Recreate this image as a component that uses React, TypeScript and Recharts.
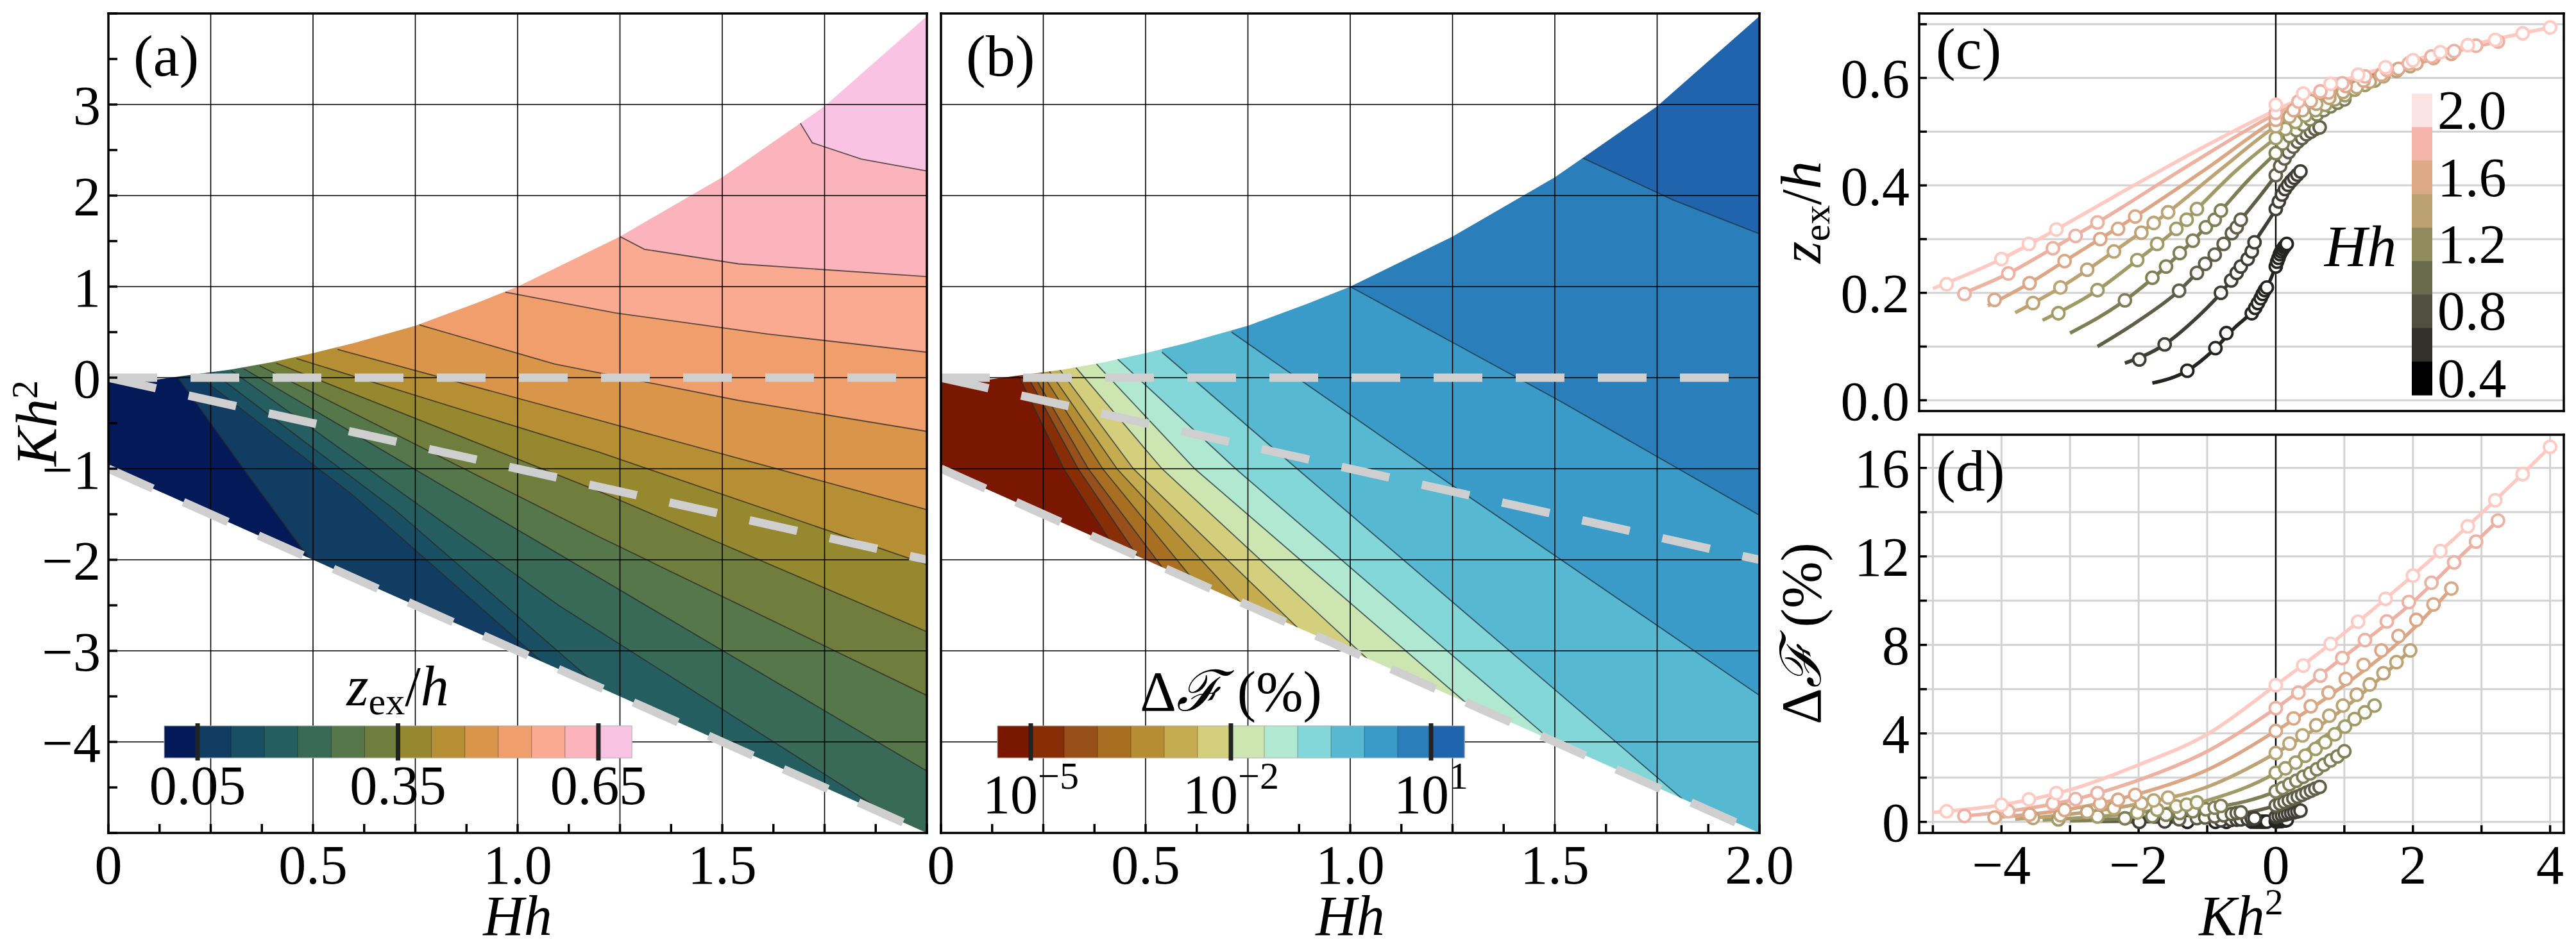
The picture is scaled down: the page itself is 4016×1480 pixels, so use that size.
import React from "react";
import {
  Area,
  CartesianGrid,
  ComposedChart,
  Line,
  ReferenceLine,
  Scatter,
  XAxis,
  YAxis,
} from "recharts";

const FONT = "'Liberation Serif', 'DejaVu Serif', serif";
const MINUS = "\u2212";

// ---------- panels (a) and (b): Hh on x, Kh^2 on y ----------
const HH_MIN = 0;
const HH_MAX = 2;
const KH_MIN = -5;
const KH_MAX = 4;
const HH_TICKS = [0, 0.125, 0.25, 0.375, 0.5, 0.625, 0.75, 0.875, 1, 1.125, 1.25, 1.375, 1.5, 1.625, 1.75, 1.875, 2];
const HH_GRID = [0.25, 0.5, 0.75, 1, 1.25, 1.5, 1.75];
const KH_TICKS = [-5, -4.5, -4, -3.5, -3, -2.5, -2, -1.5, -1, -0.5, 0, 0.5, 1, 1.5, 2, 2.5, 3, 3.5, 4];
const KH_GRID = [-4, -3, -2, -1, 0, 1, 2, 3];
const HH_NAMES: Record<string, string> = { "0": "0", "0.5": "0.5", "1": "1.0", "1.5": "1.5", "2": "2.0" };

// edges of the allowed region
const UPPER_EDGE = [[0, -0.04], [0.12, -0.02], [0.2, 0.03], [0.3, 0.09], [0.4, 0.17], [0.5, 0.27], [0.6, 0.38], [0.75, 0.57], [0.9, 0.82], [1.0, 1.0], [1.25, 1.55], [1.5, 2.2], [1.75, 2.98], [2.0, 3.97]];
const LOWER_EDGE = [[0, -1], [2, -5]];
// grey dashed guides
const DASH_ZERO = [[0, 0], [2, 0]];
const DASH_MID = [[0, 0], [2, -2]];
const DASH_LOW = [[0, -1], [2, -5]];

// (a) z_ex/h, levels 0.05 ... 0.65
const Z_COLORS = ["#041A58", "#113D62", "#184F62", "#245E60", "#386A57", "#55774A", "#717D3C", "#96882F", "#B68E33", "#D9954A", "#F09E6C", "#FBAA92", "#FCB4BC", "#FAC3E3"];
const Z_CONTOURS = [
  [[0.17, 0.0], [0.33, -1.0], [0.49, -1.98]],
  [[0.22, 0.02], [0.6, -1.3], [1.06, -3.12]],
  [[0.26, 0.04], [0.7, -1.45], [1.2, -3.4]],
  [[0.3, 0.08], [1.1, -2.5], [1.92, -4.84]],
  [[0.33, 0.1], [1.2, -2.2], [2.0, -4.32]],
  [[0.37, 0.13], [1.2, -1.75], [2.0, -3.49]],
  [[0.41, 0.16], [1.2, -1.25], [2.0, -2.79]],
  [[0.46, 0.21], [1.2, -0.82], [2.0, -2.05]],
  [[0.56, 0.31], [1.2, -0.47], [2.0, -1.45]],
  [[0.76, 0.58], [1.09, 0.15], [1.54, -0.25], [2.0, -0.59]],
  [[0.97, 0.94], [1.24, 0.71], [1.61, 0.48], [2.0, 0.28]],
  [[1.25, 1.55], [1.31, 1.41], [1.54, 1.25], [2.0, 1.11]],
  [[1.69, 2.8], [1.72, 2.58], [1.84, 2.4], [2.0, 2.27]],
];
const Z_BAR_CELLS = [1, 7, 13];
const Z_BAR_LABELS = ["0.05", "0.35", "0.65"];

// (b) delta F (%), levels 10^-5 ... 10^1 every half decade
const F_COLORS = ["#7A1700", "#882E06", "#98501A", "#A86F22", "#B58D32", "#C5AC51", "#D3CF7D", "#CDE6B1", "#B1E8D1", "#84D7D8", "#57B8D2", "#3A9BC8", "#2A7FBA", "#2164AE"];
const F_CONTOURS = [
  [[0.19, 0.02], [0.3, -1.0], [0.42, -1.84]],
  [[0.21, 0.03], [0.335, -1.0], [0.48, -1.96]],
  [[0.225, 0.04], [0.36, -1.0], [0.54, -2.08]],
  [[0.245, 0.06], [0.395, -1.0], [0.62, -2.24]],
  [[0.265, 0.07], [0.43, -1.0], [0.73, -2.46]],
  [[0.29, 0.09], [0.47, -1.0], [0.87, -2.74]],
  [[0.33, 0.11], [0.54, -1.0], [1.04, -3.08]],
  [[0.38, 0.15], [0.62, -1.0], [1.28, -3.56]],
  [[0.43, 0.21], [0.72, -1.0], [1.49, -3.98]],
  [[0.54, 0.28], [0.87, -1.0], [1.81, -4.62]],
  [[0.71, 0.5], [1.19, -1.0], [2.0, -3.49]],
  [[1.0, 1.0], [1.51, -0.25], [2.0, -1.51]],
  [[1.56, 2.43], [1.79, 1.95], [2.0, 1.58]],
];
const F_BAR_CELLS = [1, 7, 13];
const F_BAR_EXPONENTS = [MINUS + "5", MINUS + "2", "1"];

// ---------- panels (c) and (d): Kh^2 on x, one curve per Hh ----------
const K_DOMAIN = [-5.2, 4.2];
const K_TICKS = [-5, -4, -3, -2, -1, 0, 1, 2, 3, 4];
const C_Y_TICKS = [0, 0.1, 0.2, 0.3, 0.4, 0.5, 0.6, 0.7];
const D_Y_TICKS = [0, 2, 4, 6, 8, 10, 12, 14, 16];
const HH_VALUES = [0.4, 0.6, 0.8, 1.0, 1.2, 1.4, 1.6, 1.8, 2.0];
const HH_LINE_COLORS = ["#242422", "#3E3E35", "#5F5F48", "#7F7F55", "#A09A66", "#BDA273", "#DCA685", "#EEB0A0", "#FFC8C0"];
const HH_BAR_COLORS = ["#000000", "#33312A", "#504F40", "#6A6B4C", "#8F8B5B", "#BCA273", "#DEA986", "#F4B4AA", "#FDE4E4"];
const HH_BAR_LABELS = ["0.4", "0.8", "1.2", "1.6", "2.0"];

const C_LINES = [
  [[-1.8, 0.032], [-1.29, 0.055], [-0.88, 0.097], [-0.6, 0.135], [-0.35, 0.165], [-0.13, 0.21], [0, 0.249], [0.08, 0.277], [0.16, 0.291]],
  [[-2.2, 0.069], [-1.62, 0.104], [-1.2, 0.148], [-0.8, 0.2], [-0.51, 0.249], [-0.31, 0.294], [0, 0.356], [0.18, 0.401], [0.36, 0.426]],
  [[-2.6, 0.1], [-2.0, 0.148], [-1.41, 0.204], [-1.03, 0.254], [-0.51, 0.336], [0, 0.419], [0.32, 0.481], [0.64, 0.508]],
  [[-3.0, 0.125], [-2.2, 0.186], [-1.6, 0.249], [-1.02, 0.322], [-0.8, 0.353], [-0.4, 0.41], [0, 0.46], [0.5, 0.523], [1.0, 0.56]],
  [[-3.4, 0.149], [-2.6, 0.205], [-2.02, 0.261], [-1.45, 0.319], [-1.15, 0.356], [-0.6, 0.425], [0, 0.488], [0.58, 0.54], [1.01, 0.568], [1.44, 0.595]],
  [[-3.8, 0.163], [-3.14, 0.21], [-2.36, 0.277], [-1.57, 0.35], [-0.8, 0.43], [0, 0.51], [0.59, 0.552], [1.18, 0.583], [1.96, 0.622]],
  [[-4.2, 0.176], [-3.59, 0.218], [-3.08, 0.259], [-2.05, 0.342], [-1.0, 0.432], [0, 0.522], [0.77, 0.573], [1.54, 0.606], [2.56, 0.645]],
  [[-4.6, 0.197], [-3.9, 0.236], [-3.25, 0.283], [-2.6, 0.331], [-1.3, 0.435], [0, 0.533], [0.97, 0.59], [1.94, 0.627], [3.24, 0.668]],
  [[-5.0, 0.208], [-4.0, 0.263], [-3.2, 0.318], [-2.0, 0.405], [-1.0, 0.475], [0, 0.54], [1.0, 0.596], [2.0, 0.633], [3.0, 0.666], [4.0, 0.694]],
];
const C_MARKERS = [
  [[-1.29, 0.055], [-0.88, 0.097], [-0.72, 0.125], [-0.35, 0.162], [-0.3, 0.172], [-0.26, 0.181], [-0.22, 0.19], [-0.19, 0.198], [-0.16, 0.205], [-0.13, 0.21], [0, 0.249], [0.02, 0.258], [0.04, 0.265], [0.06, 0.272], [0.08, 0.277], [0.1, 0.281], [0.12, 0.285], [0.14, 0.288], [0.16, 0.291]],
  [[-1.99, 0.076], [-1.62, 0.104], [-0.8, 0.2], [-0.65, 0.223], [-0.57, 0.237], [-0.51, 0.249], [-0.41, 0.263], [-0.35, 0.277], [-0.31, 0.294], [0, 0.356], [0.045, 0.37], [0.09, 0.383], [0.135, 0.393], [0.18, 0.401], [0.225, 0.408], [0.27, 0.414], [0.315, 0.42], [0.36, 0.426]],
  [[-1.41, 0.204], [-1.15, 0.237], [-1.03, 0.254], [-0.89, 0.271], [-0.76, 0.291], [-0.64, 0.311], [-0.57, 0.322], [-0.51, 0.336], [0, 0.419], [0.064, 0.436], [0.128, 0.45], [0.19, 0.462], [0.256, 0.472], [0.32, 0.481], [0.384, 0.488], [0.448, 0.495], [0.512, 0.5], [0.576, 0.505], [0.64, 0.508]],
  [[-2.2, 0.186], [-1.8, 0.228], [-1.6, 0.249], [-1.4, 0.274], [-1.21, 0.297], [-1.02, 0.322], [-0.89, 0.336], [-0.8, 0.353], [0, 0.46], [0.1, 0.478], [0.2, 0.492], [0.3, 0.503], [0.4, 0.513], [0.5, 0.523], [0.6, 0.532], [0.7, 0.54], [0.8, 0.547], [0.9, 0.554], [1.0, 0.56]],
  [[-3.17, 0.162], [-2.6, 0.205], [-2.02, 0.261], [-1.73, 0.291], [-1.45, 0.319], [-1.3, 0.336], [-1.15, 0.356], [0, 0.488], [0.14, 0.505], [0.29, 0.518], [0.43, 0.53], [0.58, 0.54], [0.72, 0.55], [0.86, 0.56], [1.01, 0.568], [1.15, 0.578], [1.3, 0.587], [1.44, 0.595]],
  [[-3.54, 0.181], [-3.14, 0.21], [-2.75, 0.243], [-2.36, 0.277], [-1.96, 0.312], [-1.78, 0.33], [-1.57, 0.35], [0, 0.51], [0.2, 0.528], [0.39, 0.54], [0.59, 0.552], [0.78, 0.563], [0.98, 0.574], [1.18, 0.583], [1.37, 0.593], [1.57, 0.603], [1.76, 0.613], [1.96, 0.622]],
  [[-4.1, 0.187], [-3.59, 0.218], [-3.08, 0.259], [-2.56, 0.3], [-2.3, 0.319], [-2.05, 0.342], [0, 0.522], [0.26, 0.54], [0.51, 0.557], [0.77, 0.573], [1.02, 0.585], [1.28, 0.595], [1.54, 0.606], [1.79, 0.617], [2.05, 0.627], [2.3, 0.637], [2.56, 0.645]],
  [[-4.54, 0.198], [-3.9, 0.236], [-3.25, 0.283], [-2.92, 0.306], [-2.6, 0.331], [0, 0.535], [0.33, 0.556], [0.65, 0.575], [0.97, 0.59], [1.3, 0.603], [1.62, 0.615], [1.94, 0.627], [2.27, 0.64], [2.6, 0.65], [2.92, 0.66], [3.24, 0.668]],
  [[-4.8, 0.216], [-4.0, 0.263], [-3.6, 0.291], [-3.2, 0.318], [0, 0.55], [0.4, 0.571], [0.8, 0.589], [1.2, 0.606], [1.6, 0.62], [2.0, 0.633], [2.4, 0.648], [2.8, 0.661], [3.2, 0.671], [3.6, 0.683], [4.0, 0.694]],
];

const D_LINES = [
  [[-1.8, 0.0], [0, 0.02], [0.16, 0.08]],
  [[-2.2, 0.0], [-1.0, 0.05], [0, 0.23], [0.36, 0.51]],
  [[-2.6, 0.02], [-2.0, 0.05], [-1.0, 0.2], [0, 0.74], [0.32, 1.12], [0.64, 1.58]],
  [[-3.0, 0.05], [-2.0, 0.2], [-1.0, 0.58], [0, 1.38], [0.5, 2.19], [1.0, 3.19]],
  [[-3.4, 0.08], [-2.0, 0.43], [-1.0, 0.97], [0, 2.22], [0.76, 3.96], [1.44, 5.26]],
  [[-3.8, 0.12], [-3.0, 0.35], [-2.0, 0.81], [-1.0, 1.58], [0, 3.11], [1.0, 5.14], [1.96, 7.75]],
  [[-4.2, 0.17], [-3.0, 0.58], [-2.0, 1.27], [-1.0, 2.35], [0, 4.11], [1.0, 6.18], [2.0, 8.71], [2.56, 10.55]],
  [[-4.6, 0.25], [-3.9, 0.48], [-3.0, 0.97], [-2.0, 1.89], [-1.0, 3.19], [0, 5.14], [1.0, 7.48], [2.0, 9.94], [2.6, 11.73], [3.24, 13.62]],
  [[-5.0, 0.43], [-4.0, 0.77], [-3.0, 1.45], [-2.0, 2.58], [-1.0, 3.96], [0, 6.18], [0.8, 8.05], [1.6, 10.08], [2.4, 12.24], [3.2, 14.54], [4.0, 16.95]],
];
const D_MARKERS = [
  [[-1.29, 0.0], [-0.88, 0.0], [-0.72, 0.0], [-0.35, 0.01], [-0.3, 0.01], [-0.26, 0.01], [-0.22, 0.01], [-0.19, 0.01], [-0.16, 0.01], [-0.13, 0.01], [0, 0.02], [0.02, 0.02], [0.04, 0.03], [0.06, 0.03], [0.08, 0.04], [0.1, 0.05], [0.12, 0.06], [0.14, 0.07], [0.16, 0.08]],
  [[-1.99, 0.0], [-1.62, 0.02], [-0.8, 0.07], [-0.65, 0.09], [-0.57, 0.1], [-0.51, 0.11], [-0.41, 0.13], [-0.35, 0.15], [-0.31, 0.16], [0, 0.23], [0.045, 0.26], [0.09, 0.3], [0.135, 0.33], [0.18, 0.37], [0.225, 0.4], [0.27, 0.44], [0.315, 0.47], [0.36, 0.51]],
  [[-1.41, 0.12], [-1.15, 0.17], [-1.03, 0.2], [-0.89, 0.25], [-0.76, 0.3], [-0.64, 0.36], [-0.57, 0.4], [-0.51, 0.43], [0, 0.74], [0.064, 0.82], [0.128, 0.9], [0.19, 0.98], [0.256, 1.06], [0.32, 1.14], [0.384, 1.23], [0.448, 1.32], [0.512, 1.41], [0.576, 1.5], [0.64, 1.58]],
  [[-2.2, 0.16], [-1.8, 0.26], [-1.6, 0.32], [-1.4, 0.4], [-1.21, 0.48], [-1.02, 0.57], [-0.89, 0.64], [-0.8, 0.72], [0, 1.38], [0.1, 1.53], [0.2, 1.7], [0.3, 1.86], [0.4, 2.04], [0.5, 2.19], [0.6, 2.38], [0.7, 2.58], [0.8, 2.78], [0.9, 2.96], [1.0, 3.19]],
  [[-3.17, 0.11], [-2.6, 0.24], [-2.02, 0.42], [-1.73, 0.55], [-1.45, 0.7], [-1.3, 0.78], [-1.15, 0.88], [0, 2.22], [0.14, 2.42], [0.29, 2.68], [0.43, 2.99], [0.58, 3.3], [0.72, 3.6], [0.86, 3.96], [1.01, 4.31], [1.15, 4.65], [1.3, 4.95], [1.44, 5.26]],
  [[-3.54, 0.18], [-3.14, 0.3], [-2.75, 0.45], [-2.36, 0.62], [-1.96, 0.84], [-1.78, 0.97], [-1.57, 1.1], [0, 3.11], [0.2, 3.54], [0.39, 3.91], [0.59, 4.37], [0.78, 4.8], [0.98, 5.26], [1.18, 5.75], [1.37, 6.21], [1.57, 6.72], [1.76, 7.22], [1.96, 7.75]],
  [[-4.1, 0.2], [-3.59, 0.33], [-3.08, 0.54], [-2.56, 0.82], [-2.3, 1.0], [-2.05, 1.22], [0, 4.11], [0.26, 4.68], [0.51, 5.23], [0.77, 5.84], [1.02, 6.46], [1.28, 7.1], [1.54, 7.75], [1.79, 8.4], [2.05, 9.13], [2.3, 9.83], [2.56, 10.55]],
  [[-4.54, 0.27], [-3.9, 0.48], [-3.25, 0.83], [-2.92, 1.03], [-2.6, 1.3], [0, 5.14], [0.33, 5.84], [0.65, 6.61], [0.97, 7.41], [1.3, 8.22], [1.62, 9.06], [1.94, 9.94], [2.27, 10.81], [2.6, 11.73], [2.92, 12.67], [3.24, 13.62]],
  [[-4.8, 0.48], [-4.0, 0.77], [-3.6, 1.02], [-3.2, 1.3], [0, 6.18], [0.4, 7.07], [0.8, 8.05], [1.2, 9.05], [1.6, 10.08], [2.0, 11.13], [2.4, 12.24], [2.8, 13.36], [3.2, 14.54], [3.6, 15.72], [4.0, 16.95]],
];

// ---------- helpers ----------
const signed = (v: number) => (v < 0 ? MINUS + Math.abs(v) : String(v));
const toXY = (pts: number[][]) => pts.map(([x, y]) => ({ x, y }));

// region above a contour line, closed off at the top of the plot
function bandRows(pts: number[][]) {
  const rows = pts.map(([x, y]) => ({ x, r: [y, KH_MAX] }));
  const last = pts[pts.length - 1];
  if (last[0] < HH_MAX) {
    rows.push({ x: last[0], r: [KH_MIN, KH_MAX] });
    rows.push({ x: HH_MAX, r: [KH_MIN, KH_MAX] });
  }
  return rows;
}

// serif tick labels drawn by hand so the font is really applied
const tickText = (fmt: (v: number) => string, dy: string) => (p: any) => {
  const label = fmt(p.payload.value);
  if (!label) return <g />;
  return (
    <text x={p.x} y={p.y} dy={dy} textAnchor={p.textAnchor} fontSize={86} fontFamily={FONT} fill="#000">
      {label}
    </text>
  );
};

const AXIS_LINE = { stroke: "#000", strokeWidth: 3.5, strokeLinecap: "square" };
const TICK_LINE = { stroke: "#000", strokeWidth: 3.5 };

function ContourPanel({ left, width, margin, yWidth, showY, xNames, colors, contours, lineColor }: any) {
  const xFmt = (v: number) => (xNames.includes(String(v)) ? HH_NAMES[String(v)] : "");
  const yFmt = (v: number) => (showY && Number.isInteger(v) && v > KH_MIN && v < KH_MAX ? signed(v) : "");
  const fullRows = [
    { x: HH_MIN, r: [KH_MIN, KH_MAX] },
    { x: HH_MAX, r: [KH_MIN, KH_MAX] },
  ];
  const upperMask = UPPER_EDGE.map(([x, y]) => ({ x, r: [y, KH_MAX] }));
  const lowerMask = LOWER_EDGE.map(([x, y]) => ({ x, r: [KH_MIN, y] }));
  return (
    <div style={{ position: "absolute", left, top: 0 }}>
      <ComposedChart width={width} height={1480} margin={margin}>
        <XAxis type="number" dataKey="x" domain={[HH_MIN, HH_MAX]} allowDataOverflow ticks={HH_TICKS} interval={0}
          tickSize={-14} tickMargin={32} height={100}
          axisLine={AXIS_LINE} tickLine={TICK_LINE} tick={tickText(xFmt, "0.71em")} />
        <XAxis xAxisId="top" orientation="top" type="number" dataKey="x" domain={[HH_MIN, HH_MAX]} allowDataOverflow
          ticks={HH_TICKS} interval={0} tick={false} tickSize={-14} height={5}
          axisLine={AXIS_LINE} tickLine={TICK_LINE} />
        <YAxis type="number" domain={[KH_MIN, KH_MAX]} allowDataOverflow ticks={KH_TICKS} interval={0}
          tickSize={-14} tickMargin={26} width={yWidth}
          axisLine={AXIS_LINE} tickLine={TICK_LINE} tick={showY ? tickText(yFmt, "0.355em") : false} />
        <YAxis yAxisId="right" orientation="right" type="number" domain={[KH_MIN, KH_MAX]} allowDataOverflow
          ticks={KH_TICKS} interval={0} tick={false} tickSize={-14} width={5}
          axisLine={AXIS_LINE} tickLine={TICK_LINE} />
        <Area data={fullRows} dataKey="r" type="linear" fill={colors[0]} fillOpacity={1} stroke="none" isAnimationActive={false} />
        {contours.map((pts: number[][], k: number) => (
          <Area key={"c" + k} data={bandRows(pts)} dataKey="r" type="linear" fill={colors[k + 1]} fillOpacity={1}
            stroke={lineColor} strokeWidth={1.8} strokeOpacity={0.75} isAnimationActive={false} />
        ))}
        <Area data={upperMask} dataKey="r" type="linear" fill="#fff" fillOpacity={1} stroke="none" isAnimationActive={false} />
        <Area data={lowerMask} dataKey="r" type="linear" fill="#fff" fillOpacity={1} stroke="none" isAnimationActive={false} />
        {HH_GRID.map((x) => (
          <ReferenceLine key={"gx" + x} x={x} stroke="#000" strokeWidth={1.6} />
        ))}
        {KH_GRID.map((y) => (
          <ReferenceLine key={"gy" + y} y={y} stroke="#000" strokeWidth={1.6} />
        ))}
        {[DASH_ZERO, DASH_MID, DASH_LOW].map((d, i) => (
          <Line key={"d" + i} data={toXY(d)} dataKey="y" type="linear" stroke="#cfcfcf" strokeWidth={13}
            strokeDasharray="76 52" dot={false} activeDot={false} isAnimationActive={false} />
        ))}
      </ComposedChart>
    </div>
  );
}

function CurvePanel({ top, height, margin, xHeight, showX, yDomain, yTicks, yFmt, lines, markers }: any) {
  const kFmt = (v: number) => (showX && v % 2 === 0 ? signed(v) : "");
  return (
    <div style={{ position: "absolute", left: 2760, top }}>
      <ComposedChart width={1256} height={height} margin={margin}>
        <CartesianGrid stroke="#d2d2d2" strokeWidth={3} />
        <XAxis type="number" dataKey="x" domain={K_DOMAIN} allowDataOverflow ticks={K_TICKS} interval={0}
          tickSize={-12} tickMargin={30} height={xHeight}
          axisLine={AXIS_LINE} tickLine={TICK_LINE} tick={showX ? tickText(kFmt, "0.71em") : false} />
        <XAxis xAxisId="top" orientation="top" type="number" dataKey="x" domain={K_DOMAIN} allowDataOverflow
          ticks={K_TICKS} interval={0} tick={false} tickSize={-12} height={5}
          axisLine={AXIS_LINE} tickLine={TICK_LINE} />
        <YAxis type="number" domain={yDomain} allowDataOverflow ticks={yTicks} interval={0}
          tickSize={-12} tickMargin={27} width={200}
          axisLine={AXIS_LINE} tickLine={TICK_LINE} tick={tickText(yFmt, "0.355em")} />
        <YAxis yAxisId="right" orientation="right" type="number" domain={yDomain} allowDataOverflow
          ticks={yTicks} interval={0} tick={false} tickSize={-12} width={5}
          axisLine={AXIS_LINE} tickLine={TICK_LINE} />
        <ReferenceLine x={0} stroke="#000" strokeWidth={2.4} />
        {lines.map((pts: number[][], i: number) => (
          <Line key={"l" + i} data={toXY(pts)} dataKey="y" type="monotone" stroke={HH_LINE_COLORS[i]}
            strokeWidth={5.5} dot={false} activeDot={false} isAnimationActive={false} />
        ))}
        {markers.map((pts: number[][], i: number) => (
          <Scatter key={"m" + i} data={toXY(pts)} dataKey="y" isAnimationActive={false}
            shape={(p: any) => (
              <circle cx={p.cx} cy={p.cy} r={9.5} fill="#fff" stroke={HH_LINE_COLORS[i]} strokeWidth={3.8} />
            )} />
        ))}
      </ComposedChart>
    </div>
  );
}

function Overlay() {
  const zx0 = 256, zx1 = 985, fx0 = 1555, fx1 = 2283, barY = 1132, barH = 50;
  const zw = (zx1 - zx0) / Z_COLORS.length;
  const fw = (fx1 - fx0) / F_COLORS.length;
  const hx = 3760, hy0 = 146, hw = 32, hh = 470 / HH_BAR_COLORS.length;
  const topDown = [...HH_BAR_COLORS].reverse();
  const labelsTop = [...HH_BAR_LABELS].reverse();
  return (
    <svg width={4016} height={1480} style={{ position: "absolute", left: 0, top: 0, pointerEvents: "none" }}
      fontFamily={FONT}>
      {/* colorbar (a) */}
      {Z_COLORS.map((c, i) => (
        <rect key={"za" + i} x={zx0 + i * zw} y={barY} width={zw + 0.6} height={barH} fill={c} />
      ))}
      {Z_COLORS.slice(1).map((_, i) => (
        <line key={"zs" + i} x1={zx0 + (i + 1) * zw} x2={zx0 + (i + 1) * zw} y1={barY} y2={barY + barH} stroke="rgba(0,0,0,0.35)" strokeWidth={1} />
      ))}
      <rect x={zx0} y={barY} width={zx1 - zx0} height={barH} fill="none" stroke="#b0b0b0" strokeWidth={1} />
      {Z_BAR_CELLS.map((c, i) => (
        <g key={"zt" + i}>
          <rect x={zx0 + c * zw - 3.5} y={barY - 4} width={7} height={barH + 8} fill="#222" />
          <text x={zx0 + c * zw} y={1254} textAnchor="middle" fontSize={86}>{Z_BAR_LABELS[i]}</text>
        </g>
      ))}
      <text x={620} y={1100} textAnchor="middle" fontSize={88}>
        <tspan fontStyle="italic">z</tspan>
        <tspan fontSize={60} dy={14}>ex</tspan>
        <tspan dy={-14}>/</tspan>
        <tspan fontStyle="italic">h</tspan>
      </text>

      {/* colorbar (b) */}
      {F_COLORS.map((c, i) => (
        <rect key={"fa" + i} x={fx0 + i * fw} y={barY} width={fw + 0.6} height={barH} fill={c} />
      ))}
      {F_COLORS.slice(1).map((_, i) => (
        <line key={"fs" + i} x1={fx0 + (i + 1) * fw} x2={fx0 + (i + 1) * fw} y1={barY} y2={barY + barH} stroke="rgba(0,0,0,0.3)" strokeWidth={1} />
      ))}
      <rect x={fx0} y={barY} width={fx1 - fx0} height={barH} fill="none" stroke="#b0b0b0" strokeWidth={1} />
      {F_BAR_CELLS.map((c, i) => (
        <g key={"ft" + i}>
          <rect x={fx0 + c * fw - 3.5} y={barY - 4} width={7} height={barH + 8} fill="#222" />
          <text x={fx0 + c * fw} y={1268} textAnchor="middle" fontSize={86}>
            10<tspan fontSize={60} dy={-38}>{F_BAR_EXPONENTS[i]}</tspan>
          </text>
        </g>
      ))}
      <text x={1919} y={1108} textAnchor="middle" fontSize={88}>
        Δ<tspan fontStyle="italic">ℱ</tspan> (%)
      </text>

      {/* colorbar (c) */}
      {topDown.map((c, i) => (
        <rect key={"ha" + i} x={hx} y={hy0 + i * hh} width={hw} height={hh + 0.6} fill={c} />
      ))}
      {labelsTop.map((t, i) => (
        <text key={"hl" + i} x={3800} y={hy0 + (2 * i + 0.5) * hh} dominantBaseline="central" fontSize={86}>{t}</text>
      ))}
      <text x={3680} y={415} textAnchor="middle" fontSize={92} fontStyle="italic">Hh</text>

      {/* panel letters */}
      <text x={208} y={118} fontSize={92}>(a)</text>
      <text x={1506} y={118} fontSize={92}>(b)</text>
      <text x={3018} y={107} fontSize={92}>(c)</text>
      <text x={3018} y={765} fontSize={92}>(d)</text>

      {/* axis titles */}
      <text x={807} y={1458} textAnchor="middle" fontSize={88} fontStyle="italic">Hh</text>
      <text x={2105} y={1458} textAnchor="middle" fontSize={88} fontStyle="italic">Hh</text>
      <text x={3494} y={1458} textAnchor="middle" fontSize={88}>
        <tspan fontStyle="italic">Kh</tspan>
        <tspan fontSize={58} dy={-32}>2</tspan>
      </text>
      <text transform="translate(88,660) rotate(-90)" textAnchor="middle" fontSize={90}>
        <tspan fontStyle="italic">Kh</tspan>
        <tspan fontSize={58} dy={-30}>2</tspan>
      </text>
      <text transform="translate(2838,331) rotate(-90)" textAnchor="middle" fontSize={88}>
        <tspan fontStyle="italic">z</tspan>
        <tspan fontSize={60} dy={14}>ex</tspan>
        <tspan dy={-14}>/</tspan>
        <tspan fontStyle="italic">h</tspan>
      </text>
      <text transform="translate(2838,988) rotate(-90)" textAnchor="middle" fontSize={88}>
        Δ<tspan fontStyle="italic">ℱ</tspan> (%)
      </text>
    </svg>
  );
}

export default function App() {
  return (
    <div style={{ position: "absolute", left: 0, top: 0, width: 4016, height: 1480, background: "#fff", fontFamily: FONT }}>
      <style>{".recharts-wrapper, .recharts-surface { overflow: visible !important; }"}</style>
      <ContourPanel left={0} width={1460} margin={{ top: 16, right: 10, bottom: 81, left: 9 }} yWidth={160} showY
        xNames={["0", "0.5", "1", "1.5"]} colors={Z_COLORS} contours={Z_CONTOURS} lineColor="#2a2a2a" />
      <ContourPanel left={1460} width={1300} margin={{ top: 16, right: 12, bottom: 81, left: 2 }} yWidth={5} showY={false}
        xNames={["0", "0.5", "1", "1.5", "2"]} colors={F_COLORS} contours={F_CONTOURS} lineColor="#1f2f3a" />
      <CurvePanel top={0} height={660} margin={{ top: 16, right: 14, bottom: 14, left: 32 }} xHeight={5} showX={false}
        yDomain={[-0.02, 0.72]} yTicks={C_Y_TICKS}
        yFmt={(v: number) => (Math.round(v * 10) % 2 === 0 ? v.toFixed(1) : "")}
        lines={C_LINES} markers={C_MARKERS} />
      <CurvePanel top={660} height={820} margin={{ top: 13, right: 14, bottom: 81, left: 32 }} xHeight={100} showX
        yDomain={[-0.5, 17.5]} yTicks={D_Y_TICKS}
        yFmt={(v: number) => (v % 4 === 0 ? String(v) : "")}
        lines={D_LINES} markers={D_MARKERS} />
      <Overlay />
    </div>
  );
}
